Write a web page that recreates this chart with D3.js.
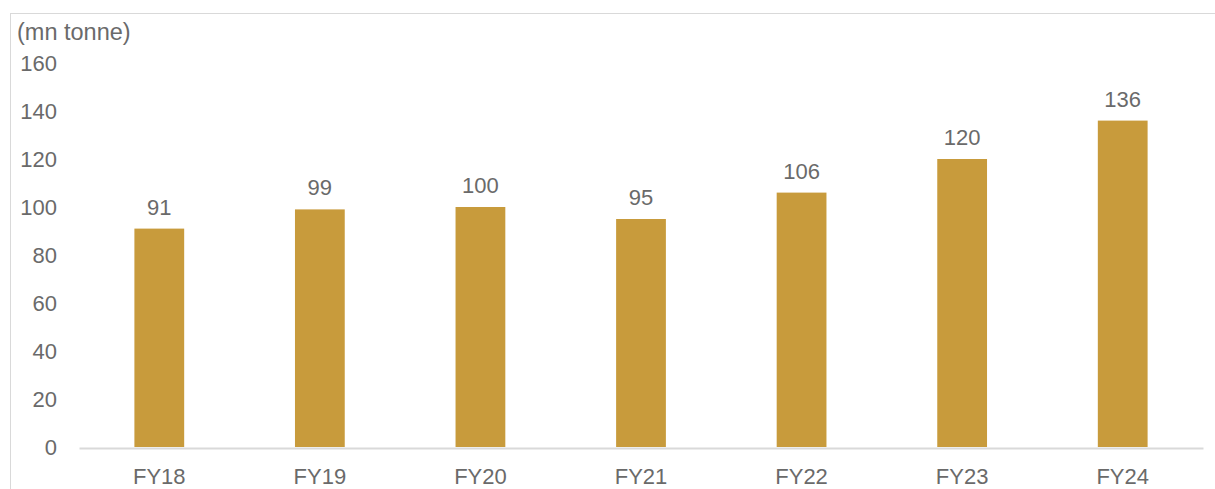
<!DOCTYPE html>
<html>
<head>
<meta charset="utf-8">
<script src="https://cdn.jsdelivr.net/npm/d3@7"></script>
<style>
  body { margin: 0; background: #fff; }
  svg { display: block; }
</style>
</head>
<body>
<script>
// Width and height
var w = 1215;
var h = 489;

var categories = ["FY18", "FY19", "FY20", "FY21", "FY22", "FY23", "FY24"];
var values = [91, 99, 100, 95, 106, 120, 136];
var yTicks = [0, 20, 40, 60, 80, 100, 120, 140, 160];
var unitLabel = "(mn tonne)";

var plotLeft = 79, plotRight = 1203, plotTop = 63, plotBottom = 447;
var textColor = "#6a6a6a";
var fontSize = "22px";

var xScale = d3.scaleBand()
  .domain(categories)
  .range([plotLeft, plotRight])
  .paddingInner(0.69)
  .paddingOuter(0.345);

var yScale = d3.scaleLinear()
  .domain([0, 160])
  .range([plotBottom, plotTop]);

var svg = d3.select("body").append("svg")
  .attr("width", w)
  .attr("height", h)
  .style("font-family", "'Liberation Sans', Arial, sans-serif");

// outer frame
svg.append("rect")
  .attr("x", 10.5).attr("y", 13.5)
  .attr("width", 1230).attr("height", 500)
  .attr("fill", "none")
  .attr("stroke", "#d9d9d9")
  .attr("stroke-width", 1);

svg.append("text")
  .attr("x", 17).attr("y", 40)
  .attr("font-size", "23.5px")
  .attr("fill", textColor)
  .text(unitLabel);

// y axis labels (no line)
var yAxis = d3.axisLeft(yScale).tickValues(yTicks).tickSize(0).tickPadding(22);
var gy = svg.append("g").attr("transform", "translate(" + plotLeft + ",0)").call(yAxis);
gy.select(".domain").remove();
gy.selectAll("text")
  .attr("font-size", fontSize)
  .attr("font-family", "'Liberation Sans', Arial, sans-serif")
  .attr("fill", textColor);

// bars
svg.selectAll("rect.bar")
  .data(values)
  .enter()
  .append("rect")
  .attr("class", "bar")
  .attr("x", function(d, i) { return xScale(categories[i]); })
  .attr("y", function(d) { return yScale(d); })
  .attr("width", xScale.bandwidth())
  .attr("height", function(d) { return plotBottom - yScale(d); })
  .attr("fill", "#C89B3C");

// x axis
var xAxis = d3.axisBottom(xScale).tickSize(0).tickPadding(20);
var gx = svg.append("g").attr("transform", "translate(0," + (plotBottom + 1) + ")").call(xAxis);
gx.select(".domain").attr("stroke", "#d9d9d9").attr("stroke-width", 2);
gx.selectAll("text")
  .attr("font-size", fontSize)
  .attr("font-family", "'Liberation Sans', Arial, sans-serif")
  .attr("fill", textColor);

// value labels
svg.selectAll("text.val")
  .data(values)
  .enter()
  .append("text")
  .attr("class", "val")
  .attr("text-anchor", "middle")
  .attr("x", function(d, i) { return xScale(categories[i]) + xScale.bandwidth() / 2; })
  .attr("y", function(d) { return yScale(d) - 14; })
  .attr("font-size", fontSize)
  .attr("fill", textColor)
  .text(function(d) { return d; });
</script>
</body>
</html>
